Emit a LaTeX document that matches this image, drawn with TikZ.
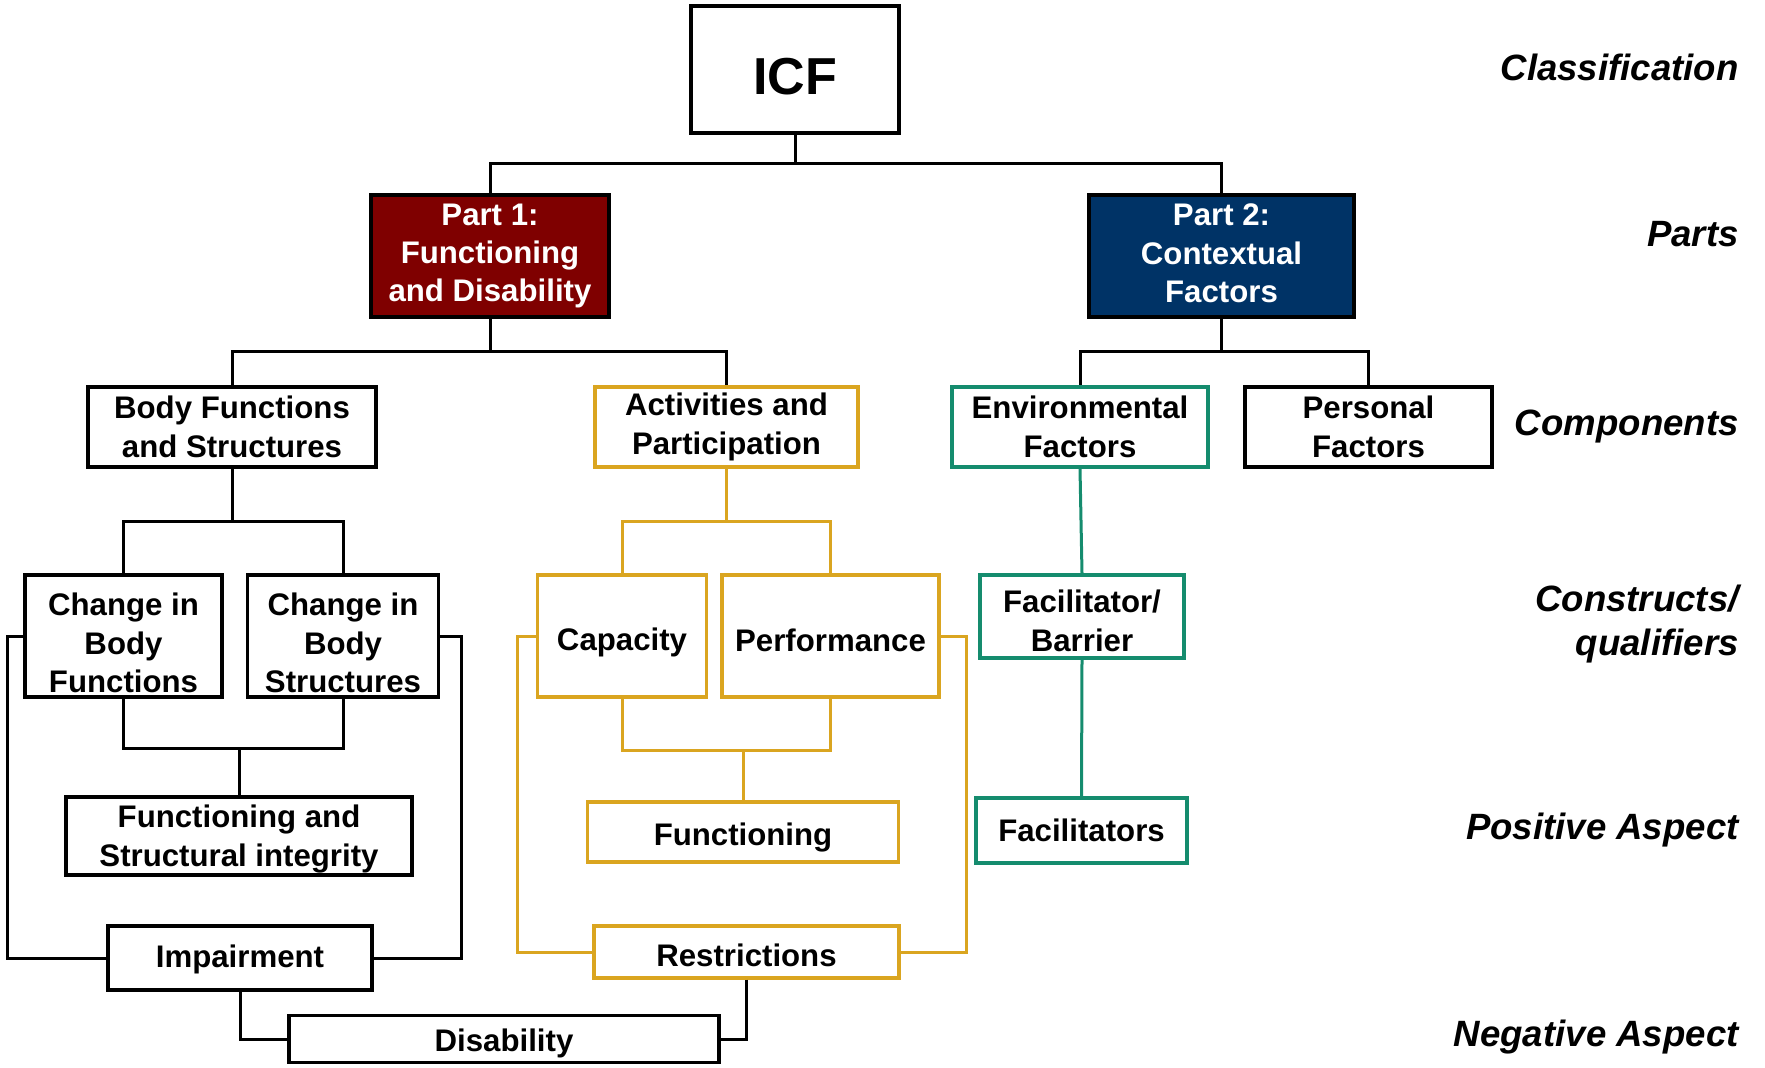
\documentclass[tikz,border=0pt]{standalone}
\usepackage{fontspec}
\setmainfont{Liberation Sans}
\definecolor{partred}{HTML}{7F0000}
\definecolor{partblue}{HTML}{003366}
\definecolor{actgold}{HTML}{DAA520}
\definecolor{envteal}{HTML}{158C6E}
\newcommand\boxfont{\bfseries\fontsize{15.6}{19.2}\selectfont}
\newcommand\levelfont{\bfseries\itshape\fontsize{18.3}{22}\selectfont}
% invisible struts that move a centred text block down or up
\newcommand\txtdown[1]{\rule{0pt}{\dimexpr\fontcharht\font`H+2\dimexpr#1\relax\relax}}
\newcommand\txtup[1]{\rule[-2\dimexpr#1\relax]{0pt}{0pt}}
\begin{document}
\begin{tikzpicture}[x=0.5pt,y=-0.5pt,
  sz/.style 2 args={minimum width=#1*0.5pt, minimum height=#2*0.5pt},
  box/.style={draw=black, line width=1.6pt, fill=white, inner sep=0pt, align=center, font=\boxfont},
  goldbox/.style={box, draw=actgold},
  tealbox/.style={box, draw=envteal},
  partbox/.style={box, line width=2pt, text=white},
  link/.style={line width=1.5pt, draw=black},
  goldlink/.style={link, draw=actgold},
  teallink/.style={link, draw=envteal},
  level/.style={anchor=east, align=right, inner sep=0pt, font=\levelfont}]
\useasboundingbox (0,0) rectangle (1765,1067);

% top and parts
\node[box, sz={208}{127}, font=\bfseries\fontsize{26}{30}\selectfont] (icf) at (795,69.5) {\txtdown{3.9pt}ICF};
\node[partbox, fill=partred, sz={238}{122}] (p1) at (490,256) {Part 1:\\Functioning\\and Disability};
\node[partbox, fill=partblue, sz={265}{122}] (p2) at (1221.5,256) {Part 2:\\Contextual\\Factors\txtup{1.4pt}};

% components
\node[box, sz={288}{80}] (bfs) at (232,427) {Body Functions\\and Structures};
\node[goldbox, sz={263}{80}] (ap) at (726.5,427) {Activities and\\Participation};
\node[tealbox, sz={256}{80}] (env) at (1080,427) {Environmental\\Factors};
\node[box, sz={247}{80}] (pers) at (1368.5,427) {Personal\\Factors};

% constructs / qualifiers
\node[box, sz={197}{122}] (cbf) at (123.5,636) {\txtdown{3.9pt}Change in\\Body\\Functions};
\node[box, sz={191}{122}] (cbs) at (343,636) {\txtdown{3.9pt}Change in\\Body\\Structures};
\node[goldbox, sz={169}{122}] (cap) at (622,636) {\txtdown{3.4pt}Capacity};
\node[goldbox, sz={217}{122}] (perf) at (830.5,636) {\txtdown{2.25pt}Performance};
\node[tealbox, sz={204}{83}] (fb) at (1082,616.5) {\txtdown{2.5pt}Facilitator/\\Barrier};

% positive aspect
\node[box, sz={346}{78}] (fsi) at (239,836) {\txtdown{1.7pt}Functioning and\\Structural integrity};
\node[goldbox, sz={311}{60}] (func) at (743,832) {\txtdown{2.8pt}Functioning};
\node[tealbox, sz={211}{65}] (facs) at (1081.5,830.5) {Facilitators};

% negative aspect
\node[box, sz={264}{64}] (imp) at (240,958) {\txtdown{1.1pt}Impairment};
\node[goldbox, sz={305}{52}] (res) at (746.5,952) {\txtdown{1.7pt}Restrictions};
\node[box, sz={430}{47}] (dis) at (504,1039) {\txtdown{2.25pt}Disability};

% level labels
\node[level] (lclass) at (1739,67) {Classification};
\node[level] (lparts) at (1739,234) {Parts};
\node[level] (lcomp) at (1739,426.5) {Components};
\node[level] (lcons) at (1739,624) {Constructs/\\qualifiers};
\node[level] (lpos) at (1739,830) {Positive Aspect};
\node[level] (lneg) at (1739,1037) {Negative Aspect};

% tree connectors
\coordinate (b0) at (795,163);
\draw[link] (icf.south) -- (b0) -| (p1.north);
\draw[link] (b0) -| (p2.north);

\coordinate (b1) at (490,351);
\draw[link] (p1.south) -- (b1) -| (bfs.north);
\draw[link] (b1) -| (ap.north);

\coordinate (b2) at (1221.5,351);
\draw[link] (p2.south) -- (b2) -| (env.north);
\draw[link] (b2) -| (pers.north);

\coordinate (b3) at (232,521);
\draw[link] (bfs.south) -- (b3) -| (cbf.north);
\draw[link] (b3) -| (cbs.north);

\coordinate (b4) at (726.5,521);
\draw[goldlink] (ap.south) -- (b4) -| (cap.north);
\draw[goldlink] (b4) -| (perf.north);

\draw[teallink] (env.south) -- (fb.north);
\draw[teallink] (fb.south) -- (facs.north);

% joins towards the positive aspect
\coordinate (j1) at (239,748);
\draw[link] (cbf.south) |- (j1) -| (cbs.south);
\draw[link] (j1) -- (fsi.north);

\coordinate (j2) at (743,750);
\draw[goldlink] (cap.south) |- (j2) -| (perf.south);
\draw[goldlink] (j2) -- (func.north);

% outer routes towards the negative aspect
\draw[link] (cbf.west) -- ++(-16,0) |- (imp.west);
\draw[link] (cbs.east) -- ++(21,0) |- (imp.east);
\draw[goldlink] (cap.west) -- ++(-18.5,0) |- (res.west);
\draw[goldlink] (perf.east) -- ++(25.7,0) |- (res.east);

\draw[link] (imp.south) |- (dis.west);
\draw[link] (res.south) |- (dis.east);
\end{tikzpicture}
\end{document}
